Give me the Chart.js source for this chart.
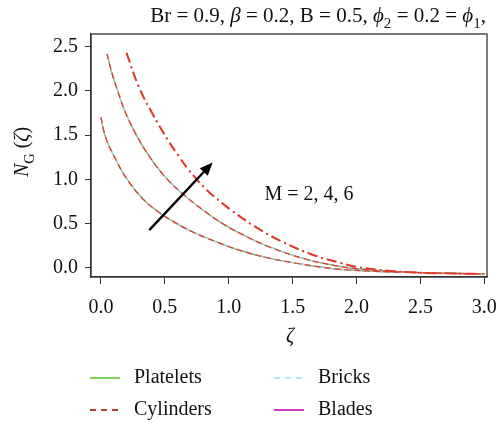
<!DOCTYPE html>
<html>
<head>
<meta charset="utf-8">
<script src="https://cdn.jsdelivr.net/npm/chart.js@4"></script>
<style>
  html, body { margin: 0; padding: 0; background: #fff; }
  #wrap { width: 498px; height: 424px; }
</style>
</head>
<body>
<div id="wrap"><canvas id="ngChart" width="498" height="424"></canvas></div>
<script>
// entropy generation N_G(zeta), one curve per M value
const zetaM2 = [0.0, 0.02, 0.05, 0.1, 0.19, 0.32, 0.45, 0.58, 0.71, 0.89, 1.1, 1.31, 1.57, 1.81, 2.0, 2.2, 2.5, 2.75, 3.0];
const ngM2   = [1.70, 1.56, 1.42, 1.27, 1.03, 0.79, 0.63, 0.51, 0.41, 0.30, 0.19, 0.11, 0.04, -0.01, -0.03, -0.045, -0.055, -0.065, -0.07];

const zetaM4 = [0.047, 0.086, 0.138, 0.19, 0.27, 0.36, 0.5, 0.66, 0.82, 0.95, 1.1, 1.31, 1.57, 1.81, 2.0, 2.2, 2.5, 2.75, 3.0];
const ngM4   = [2.42, 2.20, 1.97, 1.76, 1.52, 1.30, 1.03, 0.81, 0.63, 0.50, 0.38, 0.24, 0.11, 0.03, -0.01, -0.035, -0.055, -0.065, -0.07];

const zetaM6 = [0.2, 0.295, 0.4, 0.53, 0.61, 0.69, 0.82, 0.95, 1.02, 1.2, 1.41, 1.65, 1.86, 2.0, 2.21, 2.47, 2.75, 2.97];
const ngM6   = [2.43, 2.05, 1.75, 1.43, 1.26, 1.10, 0.89, 0.73, 0.65, 0.47, 0.30, 0.15, 0.06, 0.01, -0.03, -0.055, -0.065, -0.07];

const shapeNames = ["Platelets", "Cylinders", "Bricks", "Blades"];
const xTicks = [0, 0.5, 1.0, 1.5, 2.0, 2.5, 3.0];
const yTicks = [0, 0.5, 1.0, 1.5, 2.0, 2.5];
const annotationText = "M = 2, 4, 6";
const arrowFrom = [0.378, 0.426];
const arrowTo = [0.874, 1.19];

const SERIF = '"Liberation Serif", "DejaVu Serif", serif';

const shapeStyle = {
    Platelets: { color: "#7dcf55", legend: "#7dcf55", dash: [], order: 2 },
    Cylinders: { color: "#e5392c", legend: "#a8413b", dash: [6, 4], order: 0 },
    Bricks:    { color: "#9fe2e6", legend: "#b3ecec", dash: [7, 4], order: 1 },
    Blades:    { color: "#c83cc4", legend: "#c83cc4", dash: [], order: 3 }
};

function toPoints(xs, ys) {
    return xs.map((x, i) => ({ x: x, y: ys[i] }));
}

const groups = [
    { pts: toPoints(zetaM2, ngM2), dashDot: false },
    { pts: toPoints(zetaM4, ngM4), dashDot: false },
    { pts: toPoints(zetaM6, ngM6), dashDot: true }
];

const datasets = [];
groups.forEach(g => {
    shapeNames.forEach(name => {
        const s = shapeStyle[name];
        datasets.push({
            label: name,
            data: g.pts,
            borderColor: s.color,
            borderWidth: g.dashDot && name === "Cylinders" ? 2 : 1.2,
            borderDash: g.dashDot ? [10, 4, 2, 4] : s.dash,
            order: s.order,
            pointRadius: 0,
            fill: false,
            tension: 0.4
        });
    });
});

function drawRuns(ctx, runs, x, y, size) {
    // runs: text pieces, some italic, some subscript
    let cx = x;
    runs.forEach(r => {
        const fs = r.sub ? size * 0.72 : size;
        ctx.font = (r.italic ? "italic " : "") + fs + "px " + SERIF;
        ctx.fillText(r.t, cx, r.sub ? y + size * 0.28 : y);
        cx += ctx.measureText(r.t).width;
    });
    return cx - x;
}

function runsWidth(ctx, runs, size) {
    let w = 0;
    runs.forEach(r => {
        const fs = r.sub ? size * 0.72 : size;
        ctx.font = (r.italic ? "italic " : "") + fs + "px " + SERIF;
        w += ctx.measureText(r.t).width;
    });
    return w;
}

const decorations = {
    id: "decorations",
    afterDraw(chart) {
        const ctx = chart.ctx;
        const area = chart.chartArea;
        const xs = chart.scales.x, ys = chart.scales.y;
        ctx.save();

        // frame
        ctx.strokeStyle = "#333";
        ctx.lineWidth = 1.3;
        ctx.strokeRect(area.left, area.top, area.right - area.left, area.bottom - area.top);

        ctx.fillStyle = "#111";
        ctx.textBaseline = "alphabetic";

        // header line
        const head = [
            { t: "Br = 0.9, " }, { t: "β", italic: true }, { t: " = 0.2, B = 0.5, " },
            { t: "ϕ", italic: true }, { t: "2", sub: true }, { t: " = 0.2 = " },
            { t: "ϕ", italic: true }, { t: "1", sub: true }, { t: "," }
        ];
        const hw = runsWidth(ctx, head, 21);
        drawRuns(ctx, head, 486 - hw, 22, 21);

        // y title, rotated
        const yt = [{ t: "N", italic: true }, { t: "G", sub: true }, { t: " (" }, { t: "ζ", italic: true }, { t: ")" }];
        ctx.save();
        ctx.translate(28, 152);
        ctx.rotate(-Math.PI / 2);
        const yw = runsWidth(ctx, yt, 20);
        drawRuns(ctx, yt, -yw / 2, 0, 20);
        ctx.restore();

        // x title
        ctx.textAlign = "center";
        ctx.font = "italic 20px " + SERIF;
        ctx.fillText("ζ", 290, 342);
        ctx.textAlign = "left";

        // annotation text
        ctx.font = "20px " + SERIF;
        ctx.textBaseline = "middle";
        ctx.fillText(annotationText, xs.getPixelForValue(1.28), ys.getPixelForValue(0.82));

        // arrow
        const x0 = xs.getPixelForValue(arrowFrom[0]), y0 = ys.getPixelForValue(arrowFrom[1]);
        const x1 = xs.getPixelForValue(arrowTo[0]), y1 = ys.getPixelForValue(arrowTo[1]);
        const ang = Math.atan2(y1 - y0, x1 - x0);
        const hl = 13, hwid = 5.5;
        const bx = x1 - hl * Math.cos(ang), by = y1 - hl * Math.sin(ang);
        ctx.strokeStyle = "#000";
        ctx.lineWidth = 2.4;
        ctx.beginPath();
        ctx.moveTo(x0, y0);
        ctx.lineTo(bx, by);
        ctx.stroke();
        ctx.fillStyle = "#000";
        ctx.beginPath();
        ctx.moveTo(x1, y1);
        ctx.lineTo(bx + hwid * Math.sin(ang), by - hwid * Math.cos(ang));
        ctx.lineTo(bx - hwid * Math.sin(ang), by + hwid * Math.cos(ang));
        ctx.closePath();
        ctx.fill();

        // legend, two columns: Platelets/Cylinders left, Bricks/Blades right
        const cols = [90, 274], rows = [378, 410];
        shapeNames.forEach((name, i) => {
            const s = shapeStyle[name];
            const lx = cols[i < 2 ? 0 : 1];
            const ly = rows[i % 2];
            ctx.strokeStyle = s.legend;
            ctx.lineWidth = 2;
            ctx.setLineDash(s.dash.length ? [6, 5] : []);
            ctx.beginPath();
            ctx.moveTo(lx, ly);
            ctx.lineTo(lx + 30, ly);
            ctx.stroke();
            ctx.setLineDash([]);
            ctx.fillStyle = "#111";
            ctx.font = "20px " + SERIF;
            ctx.textBaseline = "middle";
            ctx.fillText(name, lx + 44, ly);
        });
        ctx.restore();
    }
};

new Chart(document.getElementById("ngChart"), {
    type: "line",
    data: { datasets: datasets },
    options: {
        responsive: false,
        animation: false,
        layout: { padding: { top: 34, right: 11, left: 0, bottom: 0 } },
        plugins: { legend: { display: false }, tooltip: { enabled: false } },
        scales: {
            x: {
                type: "linear",
                min: -0.078,
                max: 3.021,
                afterBuildTicks: scale => { scale.ticks = xTicks.map(v => ({ value: v })); },
                afterFit: scale => {
                    scale.height = 147;
                    // let the last label run past the edge like the original
                    scale.paddingLeft = 0;
                    scale.paddingRight = 0;
                },
                grid: { drawOnChartArea: false, drawTicks: true, tickLength: 7, color: "#333" },
                border: { display: true, color: "#333", width: 1.3 },
                ticks: {
                    padding: 12,
                    color: "#111",
                    font: { family: SERIF, size: 20 },
                    maxRotation: 0,
                    callback: v => v.toFixed(1)
                }
            },
            y: {
                type: "linear",
                min: -0.105,
                max: 2.644,
                afterBuildTicks: scale => { scale.ticks = yTicks.map(v => ({ value: v })); },
                afterFit: scale => { scale.width = 91; },
                grid: { drawOnChartArea: false, drawTicks: true, tickLength: 6, color: "#333" },
                border: { display: true, color: "#333", width: 1.3 },
                ticks: {
                    padding: 7,
                    color: "#111",
                    font: { family: SERIF, size: 20 },
                    callback: v => v.toFixed(1)
                }
            }
        }
    },
    plugins: [decorations]
});
</script>
</body>
</html>
